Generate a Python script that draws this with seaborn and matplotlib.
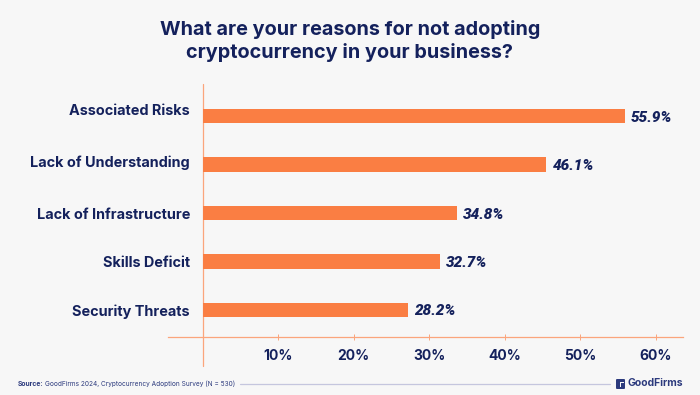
import matplotlib
matplotlib.use("Agg")
import matplotlib.pyplot as plt
import pandas as pd
import seaborn as sns
from matplotlib.patches import FancyBboxPatch, Rectangle
from matplotlib.transforms import ScaledTranslation

# === Data ===
reasons = ["Associated Risks", "Lack of Understanding", "Lack of Infrastructure", "Skills Deficit", "Security Threats"]
# printed labels and the lengths the bars really have in the picture (they don't quite agree there)
value_labels = ["55.9%", "46.1%", "34.8%", "32.7%", "28.2%"]
bar_lengths = [55.85, 45.5, 33.7, 31.4, 27.2]
x_ticks = [10, 20, 30, 40, 50, 60]

title = "What are your reasons for not adopting\ncryptocurrency in your business?"
source_bold = "Source:"
source_text = "GoodFirms 2024, Cryptocurrency Adoption Survey (N = 530)"
brand = "GoodFirms"

# === Styles ===
bg = "#f7f7f7"
navy = "#14215c"
orange = "#fa7e43"
axis_orange = "#fba57c"
footer_blue = "#2c3a7d"

sns.set_theme(style="white")
plt.rcParams["font.family"] = ["Inter", "DejaVu Sans"]

df = pd.DataFrame({"Reason": reasons, "Share": bar_lengths})

W, H = 700, 395
fig = plt.figure(figsize=(W / 100, H / 100), dpi=100, facecolor=bg)
left, right = 168, 683
top, bottom = 84, 336.5
ax = fig.add_axes([left / W, 1 - bottom / H, (right - left) / W, (bottom - top) / H], facecolor="none")

row_px = 48.45
sns.barplot(data=df, y="Reason", x="Share", color=orange, saturation=1, width=14.4 / row_px, linewidth=0, ax=ax)

# zero line at px 202.5, 60% at px 656
px_per_pct = (656 - 202.5) / 60
ax.set_xlim(-(202.5 - left) / px_per_pct, (right - 202.5) / px_per_pct)
ax.set_ylim(4 + (bottom - 310) / row_px, -(116.2 - top) / row_px)

ax.set_xlabel("")
ax.set_ylabel("")
ax.set_xticks(x_ticks)
ax.set_xticklabels([f"{t}%" for t in x_ticks], fontsize=10, fontweight="bold", color=navy)
ax.tick_params(axis="x", direction="inout", length=4.3, width=0.7, color=axis_orange, pad=6.5, bottom=True)
# labels end at px 190, inside the axes box
ax.tick_params(axis="y", length=0, pad=-(190 - left) * 0.72)

# the two top labels sit a little above their bars
label_nudge_px = [7, 3, 0, 0, 0]
for lab, nudge in zip(ax.get_yticklabels(), label_nudge_px):
    lab.set_fontsize(10.4)
    lab.set_fontweight("bold")
    lab.set_color(navy)
    lab.set_transform(lab.get_transform() + ScaledTranslation(0, nudge / 100, fig.dpi_scale_trans))

for side in ["top", "right", "left"]:
    ax.spines[side].set_visible(False)
ax.spines["bottom"].set_color(axis_orange)
ax.spines["bottom"].set_linewidth(0.9)

# vertical zero line runs a bit under the x axis
ax.axvline(0, ymin=-(365.5 - bottom) / (bottom - top), ymax=1, color=axis_orange, lw=0.9, clip_on=False, zorder=0)

for i, (length, lab) in enumerate(zip(bar_lengths, value_labels)):
    ax.text(length + 0.8, i + 0.03, lab, va="center", ha="left", fontsize=11, fontweight=900,
            fontstyle="italic", family=["Roboto", "DejaVu Sans"], color=navy)

fig.text(350 / W, 1 - 41 / H, title, ha="center", va="center", fontsize=14.3, fontweight="bold",
         color=navy, linespacing=1.25)

# === Footer ===
fig.text(18 / W, 1 - 383.5 / H, source_bold, ha="left", va="center", fontsize=4.9, fontweight="bold", color=footer_blue)
fig.text(45 / W, 1 - 383.5 / H, source_text, ha="left", va="center", fontsize=4.7, color=footer_blue)
fig.add_artist(plt.Line2D([240 / W, 610 / W], [1 - 383.5 / H] * 2, color="#c5c6de", lw=0.9))
fig.add_artist(FancyBboxPatch((616 / W, 1 - 389 / H), 9 / W, 10 / H, boxstyle="round,pad=0,rounding_size=0.002",
                              transform=fig.transFigure, facecolor=footer_blue, edgecolor="none"))
fig.add_artist(Rectangle((619.5 / W, 1 - 383 / H), 4 / W, 1.2 / H, transform=fig.transFigure, facecolor=bg, edgecolor="none"))
fig.add_artist(Rectangle((619.5 / W, 1 - 387 / H), 1.2 / W, 5 / H, transform=fig.transFigure, facecolor=bg, edgecolor="none"))
fig.text(628 / W, 1 - 383.5 / H, brand, ha="left", va="center", fontsize=7.5, fontweight="bold", color=footer_blue)

fig.savefig("out.png", dpi=100, facecolor=bg)
